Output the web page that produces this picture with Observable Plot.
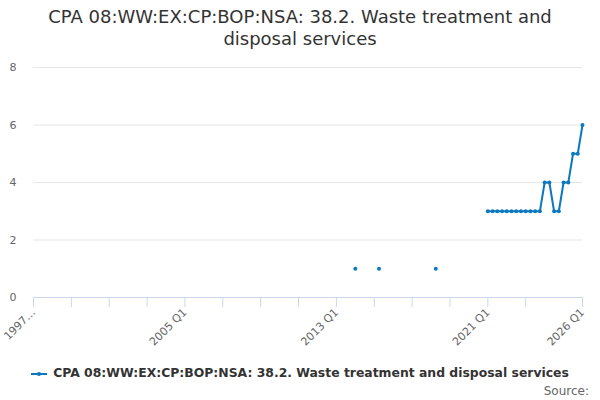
<!DOCTYPE html>
<html>
<head>
<meta charset="utf-8">
<script src="https://cdn.jsdelivr.net/npm/d3@7"></script>
<script src="https://cdn.jsdelivr.net/npm/@observablehq/plot@0.6"></script>
<style>
  body { margin: 0; background: #fff; font-family: "DejaVu Sans", sans-serif; }
  #wrap { width: 600px; height: 400px; position: relative; overflow: hidden; }
  #title { position: absolute; top: 6px; left: 0; width: 600px; text-align: center; font-size: 18px; line-height: 22px; color: #333; }
  #chart { position: absolute; top: 50px; left: 0; }
  #legend { position: absolute; top: 365px; left: 0; width: 600px; text-align: center; font-size: 12.4px; font-weight: bold; color: #333; white-space: nowrap; }
  #legend svg { vertical-align: middle; margin-right: 6px; }
  #source { position: absolute; top: 384px; right: 11px; font-size: 12px; color: #666; }
</style>
</head>
<body>
<div id="wrap">
  <div id="title">CPA 08:WW:EX:CP:BOP:NSA: 38.2. Waste treatment and<br>disposal services</div>
  <div id="chart"></div>
  <div id="legend"></div>
  <div id="source">Source:</div>
</div>
<script>
const seriesName = "CPA 08:WW:EX:CP:BOP:NSA: 38.2. Waste treatment and disposal services";
const firstYear = 1997;
const lastLabel = "2026 Q1";
const observedQuarters = [
  "2014 Q1", "2015 Q2", "2018 Q2",
  "2021 Q1", "2021 Q2", "2021 Q3", "2021 Q4",
  "2022 Q1", "2022 Q2", "2022 Q3", "2022 Q4",
  "2023 Q1", "2023 Q2", "2023 Q3", "2023 Q4",
  "2024 Q1", "2024 Q2", "2024 Q3", "2024 Q4",
  "2025 Q1", "2025 Q2", "2025 Q3", "2025 Q4",
  "2026 Q1"
];
const observedValues = [
  1, 1, 1,
  3, 3, 3, 3,
  3, 3, 3, 3,
  3, 3, 3, 3,
  4, 4, 3, 3,
  4, 4, 5, 5,
  6
];
const yTicks = [0, 2, 4, 6, 8];
const labelledQuarters = ["1997 Q1", "2005 Q1", "2013 Q1", "2021 Q1", "2026 Q1"];
const color = "#0b78c0";

// full quarterly category list 1997 Q1 .. 2026 Q1
const categories = [];
for (let y = firstYear; ; y++) {
  let done = false;
  for (let q = 1; q <= 4; q++) {
    const lab = `${y} Q${q}`;
    categories.push(lab);
    if (lab === lastLabel) { done = true; break; }
  }
  if (done) break;
}
const valueMap = new Map(observedQuarters.map((q, i) => [q, observedValues[i]]));
const full = categories.map((c, i) => ({ i, label: c, value: valueMap.has(c) ? valueMap.get(c) : null }));
const points = full.filter(d => d.value != null);

const tickIdx = [];
for (let i = 0; i < categories.length - 8; i += 8) tickIdx.push(i);
tickIdx.push(categories.length - 1);

const tickFmt = i => {
  const lab = categories[i];
  if (!labelledQuarters.includes(lab)) return "";
  if (i === 0) return lab.slice(0, 4) + "…";
  return lab;
};

const plot = Plot.plot({
  width: 600,
  height: 305,
  marginTop: 17,
  marginBottom: 58,
  marginLeft: 33,
  marginRight: 18,
  style: { fontFamily: "DejaVu Sans, sans-serif", fontSize: "11px", color: "#666", background: "transparent" },
  x: { type: "linear", domain: [0, categories.length - 1] },
  y: { domain: [0, 8] },
  marks: [
    Plot.gridY(yTicks.filter(t => t > 0), { stroke: "#e6e6e6", strokeOpacity: 1 }),
    Plot.axisY({ ticks: yTicks, tickSize: 0, tickPadding: 17, fill: "#666", label: null, fontSize: 11 }),
    Plot.ruleY([0], { stroke: "#ccd6eb", strokeWidth: 1 }),
    Plot.axisX({ ticks: tickIdx, tickFormat: tickFmt, tickSize: 10, tickPadding: 3, tickRotate: -45, stroke: "#ccd6eb", strokeOpacity: 1, fill: "#666", label: null, fontSize: 11 }),
    Plot.line(full, { x: "i", y: d => d.value == null ? NaN : d.value, stroke: color, strokeWidth: 2, curve: "linear" }),
    Plot.dot(points, { x: "i", y: "value", r: 2, fill: color, stroke: null })
  ]
});
document.getElementById("chart").appendChild(plot);

// legend
const leg = document.getElementById("legend");
leg.innerHTML = `<svg width="16" height="10"><line x1="0" y1="5" x2="16" y2="5" stroke="${color}" stroke-width="2"/><circle cx="8" cy="5" r="2" fill="${color}"/></svg>`;
const span = document.createElement("span");
span.textContent = seriesName;
leg.appendChild(span);
</script>
</body>
</html>
